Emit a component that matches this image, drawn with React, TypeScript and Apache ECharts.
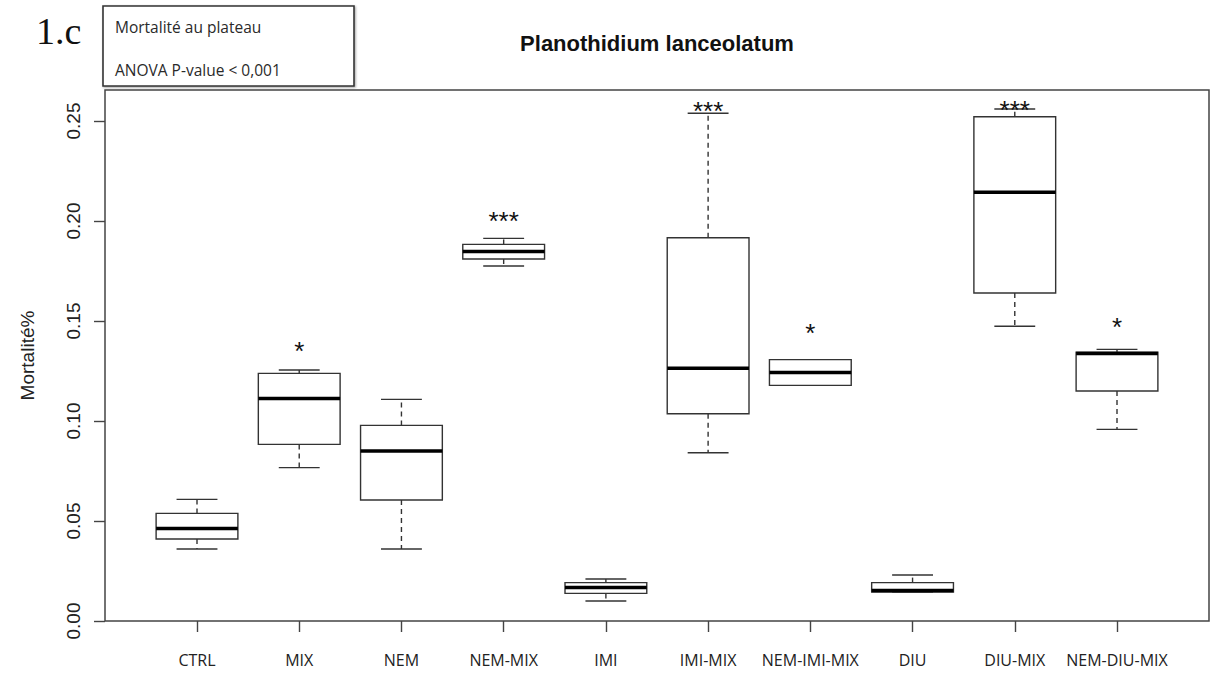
import React, { useEffect, useRef } from 'react';
import * as echarts from 'echarts';

// Treatment groups along the x axis
const groups = ['CTRL', 'MIX', 'NEM', 'NEM-MIX', 'IMI', 'IMI-MIX', 'NEM-IMI-MIX', 'DIU', 'DIU-MIX', 'NEM-DIU-MIX'];

// Five-number summaries of plateau mortality for each group
const lowWhisker = [0.036, 0.0767, 0.036, 0.1775, 0.010, 0.0841, 0.1178, 0.0145, 0.1474, 0.0958];
const lowerQuartile = [0.041, 0.0883, 0.0605, 0.181, 0.0138, 0.1036, 0.1178, 0.0145, 0.164, 0.115];
const median = [0.0463, 0.1112, 0.085, 0.1847, 0.0168, 0.1264, 0.1243, 0.0152, 0.2144, 0.1337];
const upperQuartile = [0.0538, 0.1238, 0.0978, 0.1883, 0.0192, 0.1916, 0.1307, 0.0192, 0.2521, 0.1344];
const highWhisker = [0.0608, 0.1255, 0.1108, 0.1913, 0.021, 0.2539, 0.1307, 0.023, 0.256, 0.1358];

// Significance codes versus CTRL and the level where each is written
const significance = ['', '*', '', '***', '', '***', '*', '', '***', '*'];
const starLevel = [0, 0.138, 0, 0.203, 0, 0.258, 0.147, 0, 0.2585, 0.150];

const yTicks = [0, 0.05, 0.1, 0.15, 0.2, 0.25];
const xTicks = groups.map((_, i) => i + 1);

const STROKE = '#333';
const STAR_SIZE = 26;

export default function App() {
  const ref = useRef<HTMLDivElement>(null);

  useEffect(() => {
    if (!ref.current) return;
    const chart = echarts.init(ref.current, null, { renderer: 'svg' });

    const boxData = groups.map((_, i) => [
      i + 1,
      lowWhisker[i],
      lowerQuartile[i],
      median[i],
      upperQuartile[i],
      highWhisker[i],
    ]);

    const starData = groups
      .map((_, i) => [i + 1, starLevel[i], i])
      .filter((d) => significance[d[2] as number] !== '');

    chart.setOption({
      animation: false,
      backgroundColor: '#ffffff',
      grid: {
        left: 105,
        top: 90,
        width: 1104,
        height: 531,
        show: true,
        borderColor: '#444',
        borderWidth: 1.5,
        backgroundColor: 'transparent',
      },
      xAxis: {
        type: 'value',
        min: 0.1,
        max: 10.9,
        axisLine: { show: false },
        splitLine: { show: false },
        axisTick: {
          show: true,
          length: 11,
          customValues: xTicks,
          lineStyle: { color: '#444', width: 1.4 },
        },
        axisLabel: {
          customValues: xTicks,
          formatter: (v: number) => groups[Math.round(v) - 1] ?? '',
          margin: 31,
          fontFamily: '"Open Sans", sans-serif',
          fontSize: 16,
          color: '#222',
        },
      },
      yAxis: {
        type: 'value',
        min: 0,
        max: 0.2655,
        name: 'Mortalité%',
        nameLocation: 'middle',
        nameRotate: 90,
        nameGap: 68,
        nameTextStyle: {
          fontFamily: '"Liberation Sans", Arial, sans-serif',
          fontSize: 19,
          color: '#222',
        },
        axisLine: { show: false },
        splitLine: { show: false },
        axisTick: {
          show: true,
          length: 11,
          customValues: yTicks,
          lineStyle: { color: '#444', width: 1.4 },
        },
        axisLabel: {
          customValues: yTicks,
          formatter: (v: number) => v.toFixed(2),
          rotate: 90,
          margin: 22,
          fontFamily: '"Liberation Sans", Arial, sans-serif',
          fontSize: 19,
          color: '#222',
        },
      },
      series: [
        {
          type: 'custom',
          clip: false,
          encode: { x: 0, y: [1, 2, 3, 4, 5] },
          data: boxData,
          renderItem: (params: any, api: any) => {
            const x = api.value(0);
            const cx = api.coord([x, api.value(3)])[0];
            const yLo = api.coord([x, api.value(1)])[1];
            const yQ1 = api.coord([x, api.value(2)])[1];
            const yMed = api.coord([x, api.value(3)])[1];
            const yQ3 = api.coord([x, api.value(4)])[1];
            const yHi = api.coord([x, api.value(5)])[1];
            const bw = api.size([0.8, 0])[0];
            const cap = bw / 4;
            const thin = { stroke: STROKE, lineWidth: 1.4 };
            return {
              type: 'group',
              children: [
                {
                  type: 'line',
                  shape: { x1: cx, y1: yQ3, x2: cx, y2: yHi },
                  style: { ...thin, lineDash: [5, 4] },
                },
                {
                  type: 'line',
                  shape: { x1: cx, y1: yQ1, x2: cx, y2: yLo },
                  style: { ...thin, lineDash: [5, 4] },
                },
                {
                  type: 'line',
                  shape: { x1: cx - cap, y1: yHi, x2: cx + cap, y2: yHi },
                  style: thin,
                },
                {
                  type: 'line',
                  shape: { x1: cx - cap, y1: yLo, x2: cx + cap, y2: yLo },
                  style: thin,
                },
                {
                  type: 'rect',
                  shape: { x: cx - bw / 2, y: yQ3, width: bw, height: yQ1 - yQ3 },
                  style: { ...thin, fill: '#ffffff' },
                },
                {
                  type: 'line',
                  shape: { x1: cx - bw / 2, y1: yMed, x2: cx + bw / 2, y2: yMed },
                  style: { stroke: '#000', lineWidth: 3.5 },
                },
              ],
            };
          },
        },
        {
          type: 'custom',
          clip: false,
          encode: { x: 0, y: 1 },
          data: starData,
          renderItem: (params: any, api: any) => {
            const p = api.coord([api.value(0), api.value(1)]);
            const idx = api.value(2);
            return {
              type: 'text',
              x: p[0],
              y: p[1] + STAR_SIZE * 0.225,
              style: {
                text: significance[idx],
                align: 'center',
                verticalAlign: 'middle',
                fontFamily: '"Liberation Sans", Arial, sans-serif',
                fontSize: STAR_SIZE,
                fill: '#111',
              },
            };
          },
        },
      ],
      graphic: [
        {
          type: 'text',
          left: 36,
          top: 12,
          style: {
            text: '1.c',
            fontFamily: '"Liberation Serif", "DejaVu Serif", serif',
            fontSize: 38,
            fill: '#111',
          },
        },
        {
          type: 'rect',
          shape: { x: 103, y: 6, width: 251, height: 80 },
          style: {
            fill: '#ffffff',
            stroke: '#333',
            lineWidth: 1.6,
            shadowBlur: 2,
            shadowOffsetX: 1,
            shadowOffsetY: 1,
            shadowColor: 'rgba(0,0,0,0.35)',
          },
        },
        {
          type: 'text',
          x: 115,
          y: 27,
          style: {
            text: 'Mortalité au plateau',
            verticalAlign: 'middle',
            fontFamily: '"Open Sans", sans-serif',
            fontSize: 15.5,
            fill: '#2a2a2a',
          },
        },
        {
          type: 'text',
          x: 115,
          y: 70,
          style: {
            text: 'ANOVA P-value < 0,001',
            verticalAlign: 'middle',
            fontFamily: '"Open Sans", sans-serif',
            fontSize: 15.5,
            fill: '#2a2a2a',
          },
        },
        {
          type: 'text',
          x: 657,
          y: 43,
          style: {
            text: 'Planothidium lanceolatum',
            align: 'center',
            verticalAlign: 'middle',
            fontFamily: '"Liberation Sans", Arial, sans-serif',
            fontWeight: 'bold',
            fontSize: 22,
            fill: '#111',
          },
        },
      ],
    });

    return () => chart.dispose();
  }, []);

  return (
    <div
      ref={ref}
      style={{ position: 'fixed', left: 0, top: 0, width: 1212, height: 679, background: '#fff' }}
    />
  );
}
